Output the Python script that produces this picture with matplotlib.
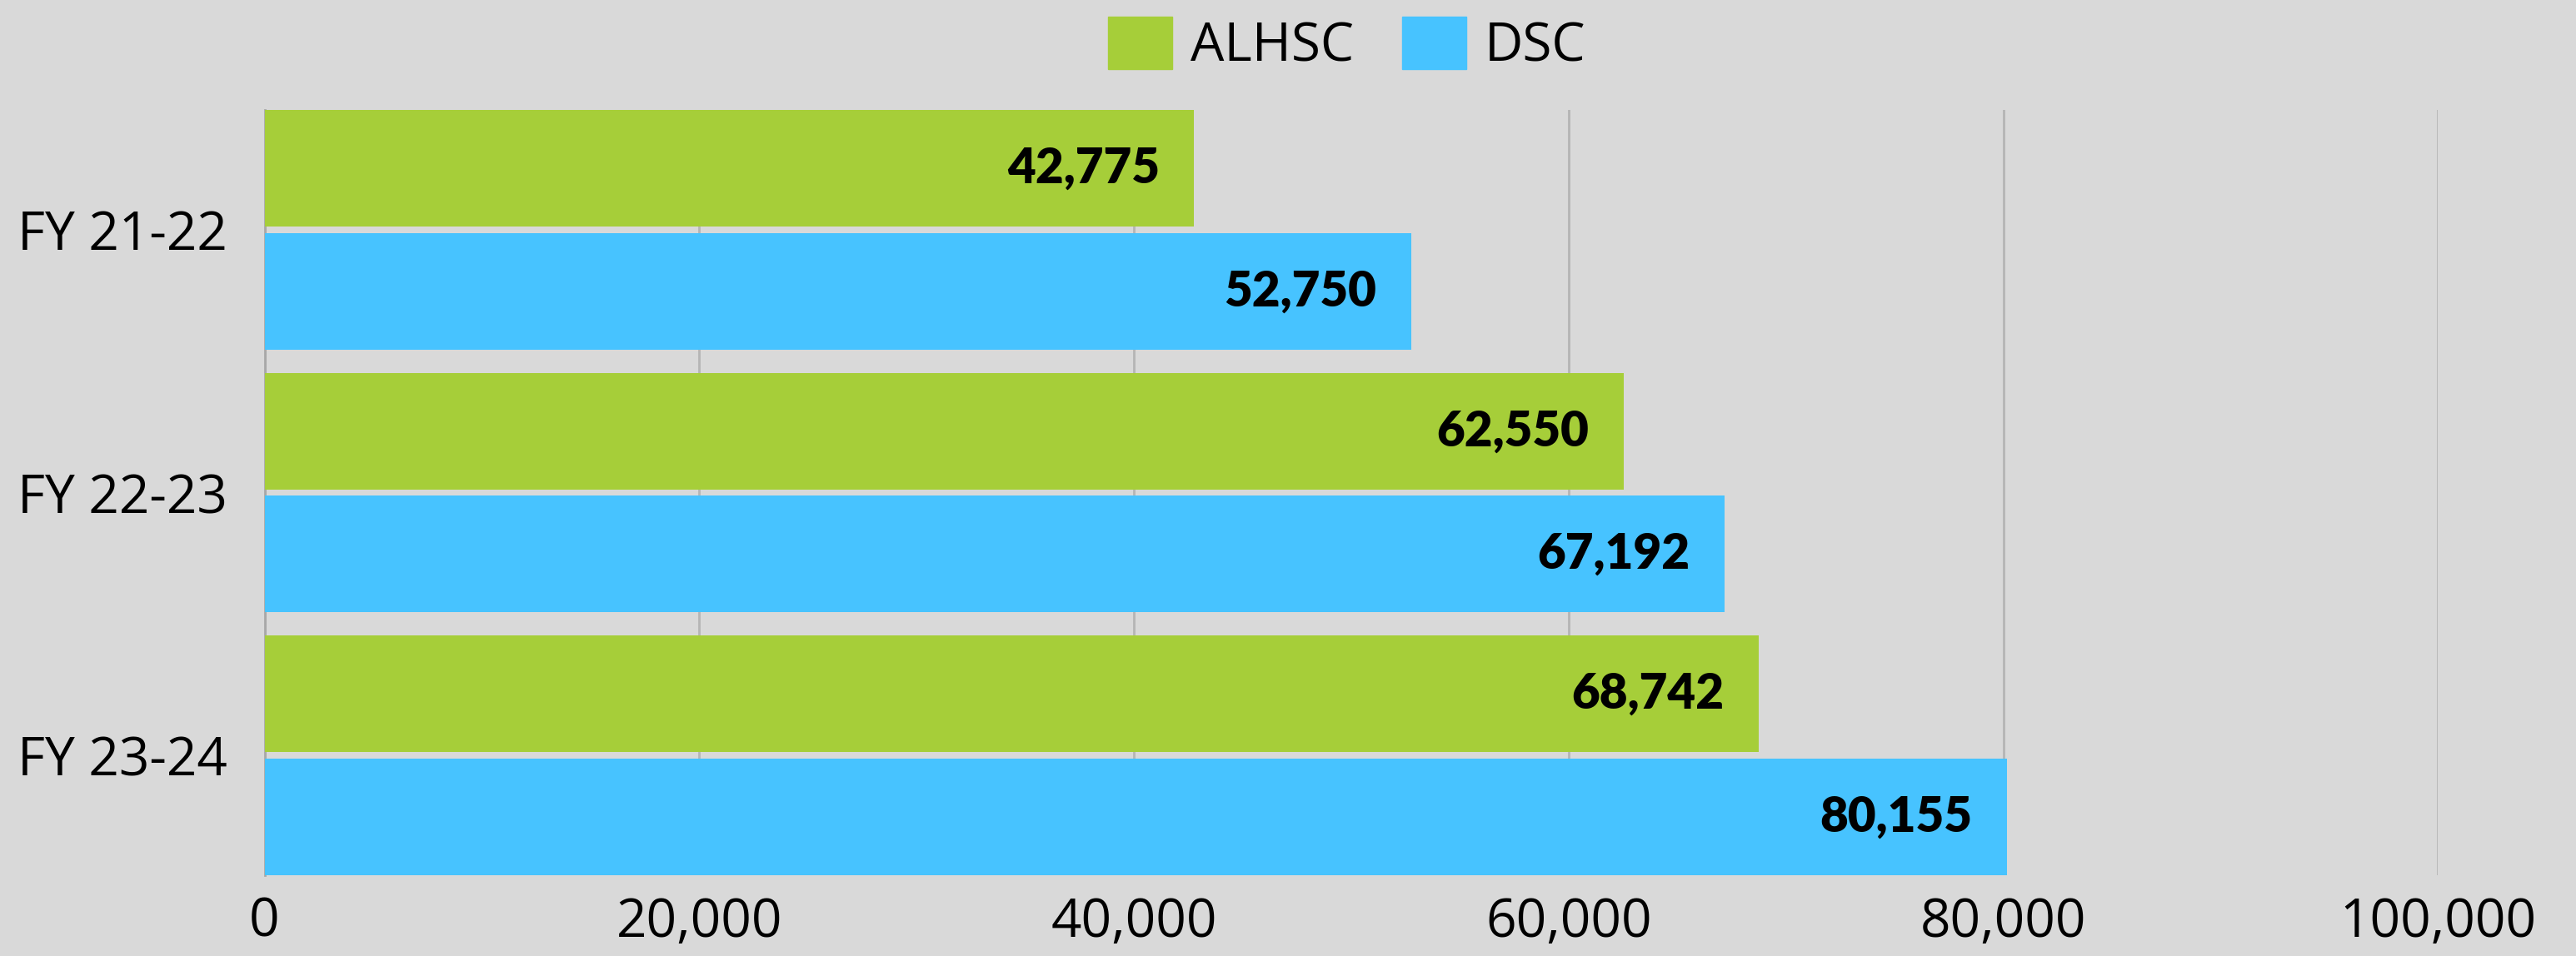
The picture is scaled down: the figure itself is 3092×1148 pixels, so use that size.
import numpy as np
import matplotlib.pyplot as plt
from matplotlib.patches import Patch

years = ["FY 21-22", "FY 22-23", "FY 23-24"]
alhsc = [42775, 62550, 68742]
dsc = [52750, 67192, 80155]
xticks = [0, 20000, 40000, 60000, 80000, 100000]

green = "#A6CE39"
blue = "#47C3FF"
bg = "#D9D9D9"

fig = plt.figure(figsize=(30.92, 11.48), dpi=100, facecolor=bg)
ax = fig.add_axes([0.1027, 0.0845, 0.8437, 0.8005], facecolor=bg)

y = np.arange(len(years))
h = 0.444
off = 0.234
b1 = ax.barh(y - off, alhsc, height=h, color=green, zorder=3)
b2 = ax.barh(y + off, dsc, height=h, color=blue, zorder=3)

# value labels inside bar ends
for bars, vals in [(b1, alhsc), (b2, dsc)]:
    for bar, v in zip(bars, vals):
        ax.text(v - 1600, bar.get_y() + bar.get_height() / 2, f"{v:,}",
                ha="right", va="center", fontsize=42, fontweight="heavy",
                family="Lato", zorder=4)

ax.set_xlim(0, 100000)
ax.set_ylim(2.456, -0.456)
ax.set_xticks(xticks)
ax.set_xticklabels([f"{t:,}" for t in xticks], family="Open Sans", fontsize=46)
ax.set_yticks(y)
ax.set_yticklabels(years, family="Open Sans", fontsize=46)
ax.tick_params(axis="y", length=0, pad=32)
ax.tick_params(axis="x", length=0, pad=18)
ax.grid(axis="x", color="#B5B5B5", linewidth=2, zorder=0)
for s in ["top", "right", "bottom"]:
    ax.spines[s].set_visible(False)
ax.spines["left"].set_color("#A8A8A8")
ax.spines["left"].set_linewidth(2)

handles = [Patch(color=green, label="ALHSC"), Patch(color=blue, label="DSC")]
fig.legend(handles=handles, loc="center", bbox_to_anchor=(0.523, 0.953), ncol=2,
           frameon=False, prop={"family": "Open Sans", "size": 46},
           handlelength=1.2, handleheight=1.15, handletextpad=0.35, columnspacing=0.9)

fig.savefig("out.png", dpi=100, facecolor=bg)
